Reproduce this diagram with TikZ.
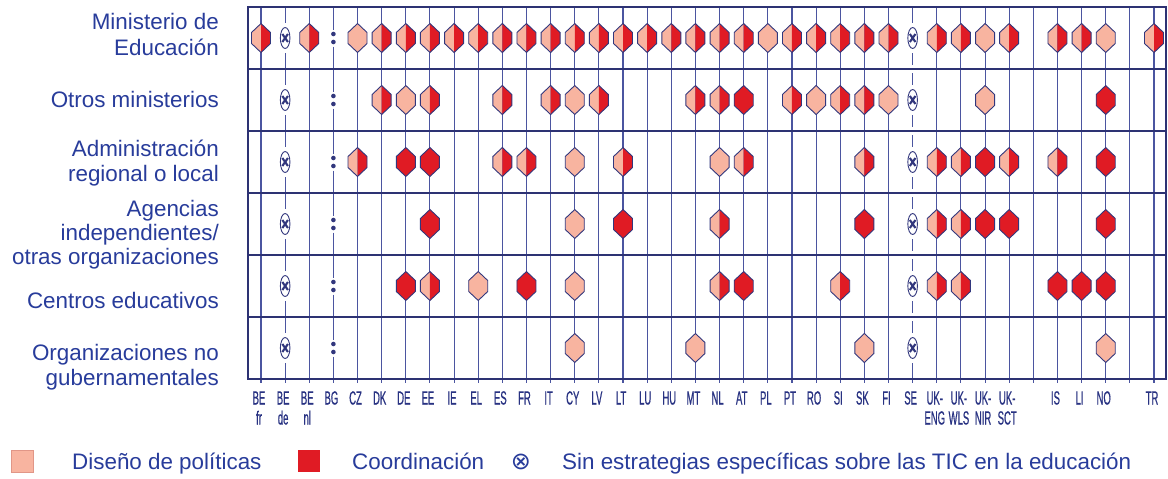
\documentclass[tikz,border=0pt]{standalone}
\usepackage{fontspec}
\setmainfont{Liberation Sans}
\newfontfamily\condfont[FakeStretch=0.5,FakeBold=0.6]{Liberation Sans}
\newfontfamily\symfont{DejaVu Sans}
\definecolor{lightp}{RGB}{248,180,160}
\definecolor{lightb}{RGB}{225,150,135}
\definecolor{redc}{RGB}{224,27,36}
\definecolor{navy}{RGB}{50,55,125}
\definecolor{gridv}{RGB}{75,85,160}
\definecolor{gridh}{RGB}{45,50,115}
\definecolor{txtblue}{RGB}{40,60,155}
\definecolor{cntblue}{RGB}{40,50,130}
\tikzset{
  vline/.style={gridv, line width=1.1pt},
  hline/.style={gridh, line width=1.1pt},
  hexline/.style={navy, line width=0.9pt, line join=miter},
  rowlab/.style={anchor=base east, inner sep=0pt, text=txtblue, font=\fontsize{22.4}{25}\selectfont},
  cntlab/.style={anchor=base, inner sep=0pt, text=cntblue, font=\condfont\fontsize{19}{21}\selectfont},
  legtxt/.style={anchor=base west, inner sep=0pt, text=txtblue, font=\fontsize{22.4}{25}\selectfont},
}
\newcommand\hexat[3]{%
  \pgfmathsetmacro\hx{261+24.135*#1}%
  \begin{scope}[shift={(\hx,#2)}]
    \ifcase#3\or
      \fill[lightp] (0,-14.5) -- (9.5,-5.5) -- (9.5,5.5) -- (0,14.5) -- (-9.5,5.5) -- (-9.5,-5.5) -- cycle;
    \or
      \fill[redc] (0,-14.5) -- (9.5,-5.5) -- (9.5,5.5) -- (0,14.5) -- (-9.5,5.5) -- (-9.5,-5.5) -- cycle;
    \or
      \fill[lightp] (0,-14.5) -- (-9.5,-5.5) -- (-9.5,5.5) -- (0,14.5) -- cycle;
      \fill[redc] (0,-14.5) -- (9.5,-5.5) -- (9.5,5.5) -- (0,14.5) -- cycle;
    \fi
    \draw[hexline] (0,-14.5) -- (9.5,-5.5) -- (9.5,5.5) -- (0,14.5) -- (-9.5,5.5) -- (-9.5,-5.5) -- cycle;
  \end{scope}}
\newcommand\xmarkat[2]{%
  \begin{scope}[shift={(#1,#2)}]
    \fill[white] (0,0) ellipse [x radius=4.8, y radius=10.5];
    \draw[navy, line width=0.9pt] (0,0) ellipse [x radius=4.8, y radius=10.5];
    \draw[navy, line width=2.1pt] (-2.8,-4) -- (2.8,4) (-2.8,4) -- (2.8,-4);
  \end{scope}}
\begin{document}
\begin{tikzpicture}[x=1pt,y=-1pt]
\useasboundingbox (0,0) rectangle (1168,479);
\fill[white] (0,0) rectangle (1168,479);
% vertical column lines
\foreach \c in {0,2} \draw[vline] ({261+24.135*\c},7) -- ({261+24.135*\c},383);
\foreach \c in {4,...,26} \draw[vline] ({261+24.135*\c},7) -- ({261+24.135*\c},383);
\foreach \c in {28,...,37} \draw[vline] ({261+24.135*\c},7) -- ({261+24.135*\c},383);
% BE de column
\foreach \a/\b in {7/23, 53/85, 115/147, 177/209, 239/271, 301/333, 363/383}
  \draw[vline] (285.135,\a) -- (285.135,\b);
% SE column
\foreach \a/\b in {7/23, 53/65, 73/85, 115/127, 135/147, 177/189, 197/209, 239/251, 259/271, 301/313, 321/333, 363/383}
  \draw[vline] (912.645,\a) -- (912.645,\b);
% BG column
\foreach \a/\b in {7/29.5, 46.5/91.5, 108.5/153.5, 170.5/215.5, 232.5/277.5, 294.5/339.5, 356.5/383}
  \draw[vline] (333.405,\a) -- (333.405,\b);
% frame and row lines
\draw[hline] (248,7) rectangle (1166,379);
\foreach \y in {69,131,193,255,317} \draw[hline] (248,\y) -- (1166,\y);
% symbols in special columns
\foreach \y in {38,100,162,224,286,348} {
  \xmarkat{285.135}{\y}
  \xmarkat{912.645}{\y}
  \fill[navy] (333.405,\y-4) circle (2.3) (333.405,\y+4) circle (2.3);
}
% row 1
\foreach \c/\t in {0/3,2/3,4/1,5/3,6/3,7/3,8/3,9/3,10/3,11/3,12/3,13/3,14/3,15/3,16/3,17/3,18/3,19/3,20/3,21/1,22/3,23/3,24/3,25/3,26/3,28/3,29/3,30/1,31/3,33/3,34/3,35/1,37/3}
  {\hexat{\c}{38}{\t}}
% row 2
\foreach \c/\t in {5/3,6/1,7/3,10/3,12/3,13/1,14/3,18/3,19/3,20/2,22/3,23/1,24/3,25/3,26/1,30/1,35/2}
  {\hexat{\c}{100}{\t}}
% row 3
\foreach \c/\t in {4/3,6/2,7/2,10/3,11/3,13/1,15/3,19/1,20/3,25/3,28/3,29/3,30/2,31/3,33/3,35/2}
  {\hexat{\c}{162}{\t}}
% row 4
\foreach \c/\t in {7/2,13/1,15/2,19/3,25/2,28/3,29/3,30/2,31/2,35/2}
  {\hexat{\c}{224}{\t}}
% row 5
\foreach \c/\t in {6/2,7/3,9/1,11/2,13/1,19/3,20/2,24/3,28/3,29/3,33/2,34/2,35/2}
  {\hexat{\c}{286}{\t}}
% row 6
\foreach \c/\t in {13/1,18/1,25/1,35/1}
  {\hexat{\c}{348}{\t}}
% row labels
\node[rowlab] (rl1) at (219,30) {Ministerio de};
\node[rowlab] (rl2) at (219,55) {Educación};
\node[rowlab] (rl3) at (219,107) {Otros ministerios};
\node[rowlab] (rl4) at (219,156) {Administración};
\node[rowlab] (rl5) at (219,181) {regional o local};
\node[rowlab] (rl6) at (219,216) {Agencias};
\node[rowlab] (rl7) at (219,240) {independientes/};
\node[rowlab] (rl8) at (219,264) {otras organizaciones};
\node[rowlab] (rl9) at (219,308) {Centros educativos};
\node[rowlab] (rl10) at (219,360) {Organizaciones no};
\node[rowlab] (rl11) at (219,385) {gubernamentales};
% country labels
\foreach \c/\s in {0/BE,1/BE,2/BE,3/BG,4/CZ,5/DK,6/DE,7/EE,8/IE,9/EL,10/ES,11/FR,12/IT,13/CY,14/LV,15/LT,16/LU,17/HU,18/MT,19/NL,20/AT,21/PL,22/PT,23/RO,24/SI,25/SK,26/FI,27/SE,28/UK-,29/UK-,30/UK-,31/UK-,33/IS,34/LI,35/NO,37/TR}
  \node[cntlab] (ca\c) at ({259+24.135*\c},404.5) {\s};
\foreach \c/\s in {0/fr,1/de,2/nl,28/ENG,29/WLS,30/NIR,31/SCT}
  \node[cntlab] (cb\c) at ({259+24.135*\c},424.5) {\s};
% legend
\fill[lightp] (11.5,450.5) rectangle (33,472);
\draw[lightb, line width=0.8pt] (11.5,450.5) rectangle (33,472);
\node[legtxt] (lg1) at (72,469.5) {Diseño de políticas};
\fill[redc] (298,450) rectangle (320,472);
\node[legtxt] (lg2) at (352,469.5) {Coordinación};
\node[inner sep=0pt, text=txtblue, font=\symfont\fontsize{24}{26}\selectfont] (lg3) at (521,462) {⊗};
\node[legtxt] (lg4) at (562,469.5) {Sin estrategias específicas sobre las TIC en la educación};
\end{tikzpicture}
\end{document}
